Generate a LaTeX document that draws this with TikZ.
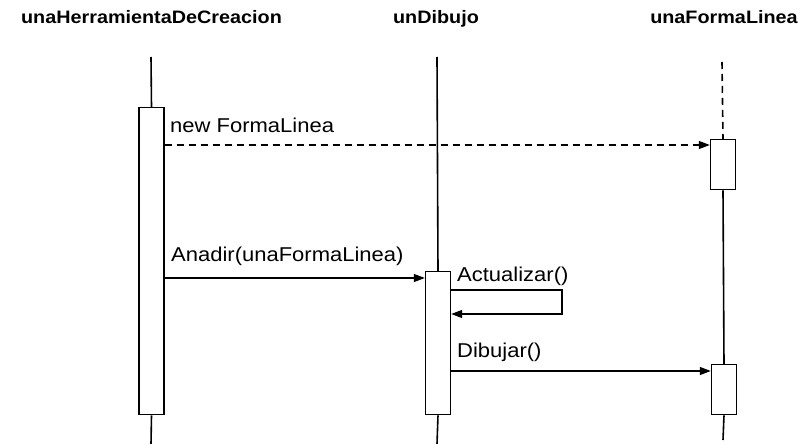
\documentclass[tikz,border=0pt]{standalone}
\usepackage{fontspec}
\setmainfont{Liberation Sans}
\newfontfamily\wideface[FakeStretch=1.1]{Liberation Sans}
\usetikzlibrary{arrows.meta}
\begin{document}
\begin{tikzpicture}[x=1pt,y=-1pt,
  lifeline/.style={line width=1.6pt},
  actbox/.style={draw,line width=1.4pt,fill=white,minimum width=25pt,inner sep=0pt,anchor=north},
  msg/.style={line width=1.3pt,-{Triangle[length=11pt,width=8pt]}},
  objname/.style={font=\wideface\bfseries\fontsize{18}{20}\selectfont,anchor=base},
  msglabel/.style={font=\wideface\fontsize{20}{22}\selectfont,anchor=base west,inner sep=0pt}]
\useasboundingbox (0,0) rectangle (804,444);

% object headers
\node[objname] (hHerr) at (151.5,24) {unaHerramientaDeCreacion};
\node[objname] (hDib) at (436,24) {unDibujo};
\node[objname] (hForma) at (724,24) {unaFormaLinea};

% lifeline tops and bottoms
\coordinate (t1) at (151,57);
\coordinate (t2) at (437,57);
\coordinate (t3) at (722,62);
\coordinate (b1) at (151,444);
\coordinate (b2) at (437,444);
\coordinate (b3) at (723,440);

% activation bars
\node[actbox,minimum height=307pt] (a1) at (151.5,107) {};
\node[actbox,minimum height=143pt] (a2) at (438,271) {};
\node[actbox,minimum height=50pt] (a3) at (723,139) {};
\node[actbox,minimum height=50pt] (a4) at (724,364) {};

% lifelines
\draw[lifeline] (t1) -- (a1.north);
\draw[lifeline] (a1.south) -- (b1);
\draw[lifeline] (t2) -- (a2.north);
\draw[lifeline] (a2.south) -- (b2);
\draw[lifeline,dash pattern=on 7pt off 5pt] (t3) -- (a3.north);
\draw[lifeline] (a3.south) -- (a4.north);
\draw[lifeline] (a4.south) -- (b3);

% messages
\coordinate (m1s) at (a1.east |- 0,145);
\coordinate (m1e) at (a3.west |- 0,145);
\draw[msg,dash pattern=on 7pt off 5pt] (m1s) -- (m1e);
\node[msglabel] (l1) at (170,132) {new FormaLinea};

\coordinate (m2s) at (a1.east |- 0,278);
\coordinate (m2e) at (a2.west |- 0,278);
\draw[msg] (m2s) -- (m2e);
\node[msglabel] (l2) at (171,261) {Anadir(unaFormaLinea)};

\coordinate (m3s) at (a2.east |- 0,290);
\coordinate (m3e) at (a2.east |- 0,314);
\draw[msg] (m3s) -- (562,290) -- (562,314) -- (m3e);
\node[msglabel] (l3) at (457,281) {Actualizar()};

\coordinate (m4s) at (a2.east |- 0,371);
\coordinate (m4e) at (a4.west |- 0,371);
\draw[msg] (m4s) -- (m4e);
\node[msglabel] (l4) at (457,357) {Dibujar()};
\end{tikzpicture}
\end{document}
